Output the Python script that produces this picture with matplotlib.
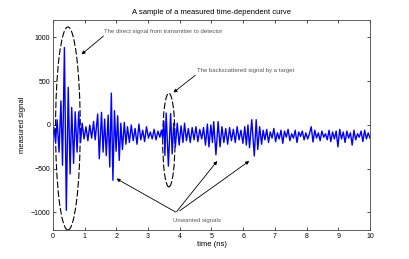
import numpy as np
import matplotlib
matplotlib.use("Agg")
import matplotlib.pyplot as plt
from matplotlib.patches import Ellipse

plt.rcParams['font.family'] = ['Liberation Sans', 'DejaVu Sans']

# extrema of the measured curve (time in ns, signal)
t_direct = [0.0, 0.03, 0.08, 0.13, 0.19, 0.25, 0.30, 0.36, 0.42, 0.48, 0.54,
            0.59, 0.65, 0.70, 0.76, 0.81, 0.87]
v_direct = [-100, -30, -200, 60, -310, 275, -460, 885, -975, 430, -560,
            200, -440, 150, -310, 150, -200]

t_quiet1 = [0.92, 0.98, 1.04, 1.10, 1.16, 1.22, 1.28, 1.33]
v_quiet1 = [20, -160, -20, -180, 0, -150, 40, -170]

t_burst2 = [1.41, 1.46, 1.53, 1.58, 1.63, 1.68, 1.74, 1.79, 1.84, 1.89,
            1.94, 1.99, 2.04, 2.09, 2.14, 2.19, 2.25, 2.30]
v_burst2 = [125, -386, 144, -310, 68, -350, 113, -480, 364, -632,
            163, -300, 105, -405, 20, -280, 30, -220]

t_quiet2 = [2.35, 2.41, 2.47, 2.53, 2.59, 2.65, 2.71, 2.77, 2.83, 2.89,
            2.95, 3.01, 3.07, 3.13, 3.19, 3.25, 3.31, 3.37, 3.42]
v_quiet2 = [-20, -200, 0, -180, -40, -220, 10, -170, -60, -190,
            -20, -150, -80, -160, -50, -170, -70, -140, -60]

t_target = [3.46, 3.50, 3.53, 3.57, 3.64, 3.71, 3.76, 3.81, 3.86]
v_target = [-150, 40, -348, 136, -470, 130, -330, 20, -250]

t_quiet3 = [3.92, 3.98, 4.04, 4.10, 4.15, 4.21, 4.27, 4.33, 4.39, 4.45,
            4.51, 4.57, 4.63, 4.69, 4.75, 4.81]
v_quiet3 = [20, -230, -10, -200, 20, -180, -40, -200, -30, -170,
            -20, -190, -50, -160, -30, -230]

t_burst3 = [4.87, 4.92, 4.98, 5.03, 5.07, 5.14, 5.21, 5.27, 5.33]
v_burst3 = [10, -250, 0, -200, 38, -340, 38, -250, -20]

t_quiet4 = [5.39, 5.45, 5.51, 5.57, 5.63, 5.69, 5.75, 5.81, 5.87, 5.93,
            5.99, 6.05]
v_quiet4 = [-200, -40, -220, -30, -180, -50, -200, -20, -170, -60, -210, -20]

t_burst4 = [6.10, 6.15, 6.20, 6.27, 6.35, 6.41, 6.46, 6.52, 6.58]
v_burst4 = [-230, 0, -260, 60, -355, 60, -280, -20, -220]

t_tail = np.linspace(6.63, 10.0, 61)
v_tail = [-60, -170, -50, -200, -80, -150, -40, -190, -90, -160,
          -60, -210, -70, -140, -50, -180, -100, -150, -60, -200,
          -80, -130, -70, -170, -90, -160, -100, -20, -195, -60,
          -150, -90, -180, -70, -140, -100, -170, -60, -190, -80,
          -160, -70, -250, -50, -160, -80, -200, -70, -150, -90,
          -230, -60, -170, -100, -140, -70, -190, -60, -160, -90, -150]

time = np.concatenate([t_direct, t_quiet1, t_burst2, t_quiet2, t_target,
                       t_quiet3, t_burst3, t_quiet4, t_burst4, t_tail])
signal = np.concatenate([v_direct, v_quiet1, v_burst2, v_quiet2, v_target,
                         v_quiet3, v_burst3, v_quiet4, v_burst4, v_tail])

xticks = list(range(0, 11))
yticks = [-1000, -500, 0, 500, 1000]

fig = plt.figure(figsize=(4.09, 2.59), dpi=100)
ax = fig.add_axes([0.1296, 0.112, 0.775, 0.811])

ax.plot(time, signal, color="#0000ff", linewidth=1.0)

ax.set_xlim(0, 10)
ax.set_ylim(-1200, 1200)
ax.set_xticks(xticks)
ax.set_yticks(yticks)
ax.tick_params(direction="in", length=2.5, width=0.5, labelsize=5,
               top=True, right=True, pad=2)
for sp in ax.spines.values():
    sp.set_linewidth(0.6)
    sp.set_color("#444444")

ax.set_title("A sample of a measured time-dependent curve", fontsize=5.5, pad=4)
ax.set_xlabel("time (ns)", fontsize=5.5, labelpad=1)
ax.set_ylabel("measured signal", fontsize=5.5, labelpad=3)

# dashed ellipses around the marked parts
ax.add_patch(Ellipse((0.47, -40), 0.78, 2320, fill=False, edgecolor="black",
                     linestyle=(0, (6, 2)), linewidth=0.8))
ax.add_patch(Ellipse((3.655, -172), 0.39, 1072, fill=False, edgecolor="black",
                     linestyle=(0, (6, 2)), linewidth=0.8))

arrow = dict(arrowstyle="-|>", color="black", linewidth=0.6, mutation_scale=5,
             shrinkA=0, shrinkB=0)
note = dict(fontsize=4.3, color="#555555", ha="left", va="center")

ax.annotate("", xy=(0.90, 807), xytext=(1.59, 1015), arrowprops=arrow)
ax.text(1.62, 1064, "The direct signal from transmitter to detector", **note)

ax.annotate("", xy=(3.80, 371), xytext=(4.49, 568), arrowprops=arrow)
ax.text(4.53, 621, "The backscattered signal by a target", **note)

ax.annotate("", xy=(2.0, -613), xytext=(3.87, -995), arrowprops=arrow)
ax.annotate("", xy=(5.18, -412), xytext=(3.90, -990), arrowprops=arrow)
ax.annotate("", xy=(6.19, -412), xytext=(4.0, -980), arrowprops=arrow)
ax.text(3.77, -1087, "Unwanted signals", **note)

fig.savefig("out.png", dpi=100)
